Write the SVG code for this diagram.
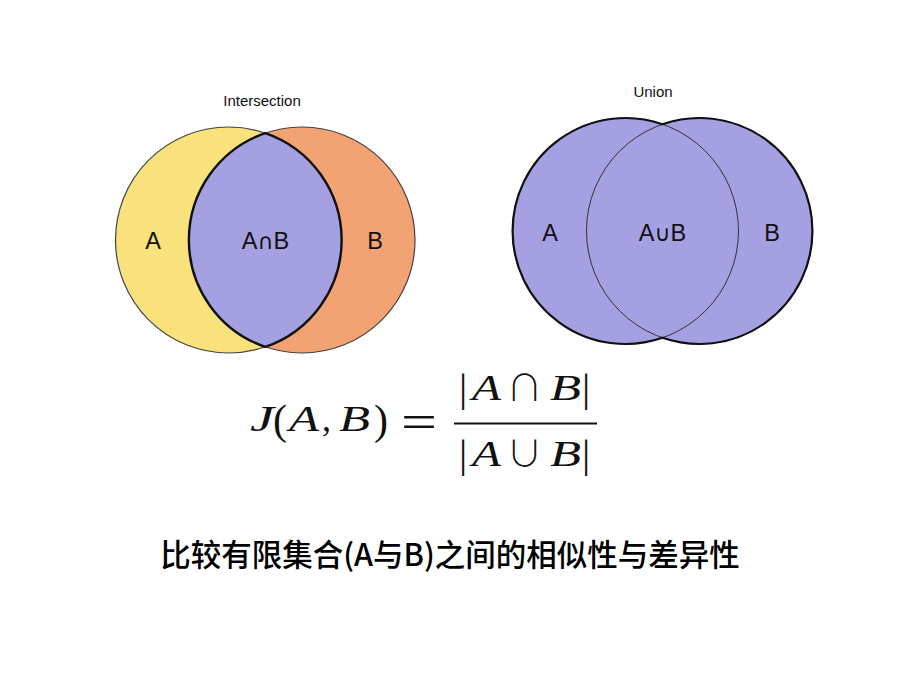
<svg xmlns="http://www.w3.org/2000/svg" width="900" height="675" viewBox="0 0 900 675">
<style>
.title{font-family:"Liberation Sans",Arial,sans-serif;font-size:15px;fill:#111;text-anchor:middle}
.lbl{font-family:"Liberation Sans","DejaVu Sans",Arial,sans-serif;font-size:23.5px;fill:#111;text-anchor:middle}
.op{font-family:"DejaVu Sans",sans-serif;font-size:22px}
.m{font-family:"Liberation Serif","Times New Roman",serif;font-size:36px;fill:#111}
.it{font-style:italic}
.par{font-size:42px}
.bar{font-size:41px}
.mop{font-family:"Noto Sans CJK SC","DejaVu Sans",sans-serif;font-size:36px;font-weight:300;fill:#111;text-anchor:middle}
.cap{font-family:"Noto Sans CJK SC","Noto Sans",sans-serif;font-size:30.5px;font-weight:500;fill:#000;text-anchor:middle}
</style>
<rect width="900" height="675" fill="#fff"/>
<g id="intersection">
  <circle cx="228.5" cy="240" r="113" fill="#F9E17B" stroke="#444" stroke-width="1.2"/>
  <circle cx="302" cy="240" r="113" fill="#F3A273" stroke="#444" stroke-width="1.2"/>
  <path d="M265.25 133.1 A113 113 0 0 1 265.25 346.9 A113 113 0 0 1 265.25 133.1 Z" fill="#A5A0E1" stroke="#111" stroke-width="2.4"/>
  <text class="title" x="262" y="106">Intersection</text>
  <text class="lbl" x="153" y="249">A</text>
  <text class="lbl" x="265.5" y="249">A<tspan class="op">∩</tspan>B</text>
  <text class="lbl" x="375" y="249">B</text>
</g>
<g id="union">
  <circle cx="625.5" cy="231" r="113" fill="#A5A0E1"/>
  <circle cx="699.5" cy="231" r="113" fill="#A5A0E1"/>
  <circle cx="625.5" cy="231" r="113" fill="none" stroke="#333" stroke-width="1"/>
  <circle cx="699.5" cy="231" r="113" fill="none" stroke="#333" stroke-width="1"/>
  <path d="M662.5 124.2 A113 113 0 1 0 662.5 337.8 A113 113 0 1 0 662.5 124.2 Z" fill="none" stroke="#111" stroke-width="2.2"/>
  <text class="title" x="653" y="97">Union</text>
  <text class="lbl" x="550" y="241">A</text>
  <text class="lbl" x="662.5" y="241">A<tspan class="op">∪</tspan>B</text>
  <text class="lbl" x="772" y="241">B</text>
</g>
<g id="formula">
  <text class="m it" x="250" y="431" textLength="24" lengthAdjust="spacingAndGlyphs">J</text>
  <text class="m par" x="273" y="434">(</text>
  <text class="m it" x="289" y="431" textLength="30" lengthAdjust="spacingAndGlyphs">A</text>
  <text class="m" x="322" y="431">,</text>
  <text class="m it" x="339" y="431" textLength="31" lengthAdjust="spacingAndGlyphs">B</text>
  <text class="m par" x="374" y="434">)</text>
  <text class="m" x="401" y="438" style="font-size:48px" textLength="36" lengthAdjust="spacingAndGlyphs">=</text>
  <text class="m bar" x="459" y="401">|</text>
  <text class="m it" x="472" y="400" textLength="29" lengthAdjust="spacingAndGlyphs">A</text>
  <text class="mop" x="524.5" y="401">∩</text>
  <text class="m it" x="550" y="400" textLength="31" lengthAdjust="spacingAndGlyphs">B</text>
  <text class="m bar" x="582" y="401">|</text>
  <line x1="454" y1="423.5" x2="597" y2="423.5" stroke="#111" stroke-width="2"/>
  <text class="m bar" x="459" y="467">|</text>
  <text class="m it" x="472" y="466" textLength="29" lengthAdjust="spacingAndGlyphs">A</text>
  <text class="mop" x="524.5" y="467">∪</text>
  <text class="m it" x="550" y="466" textLength="31" lengthAdjust="spacingAndGlyphs">B</text>
  <text class="m bar" x="582" y="467">|</text>
</g>
<g id="caption">
  <text class="cap" x="450" y="566">比较有限集合(A与B)之间的相似性与差异性</text>
</g>
</svg>
